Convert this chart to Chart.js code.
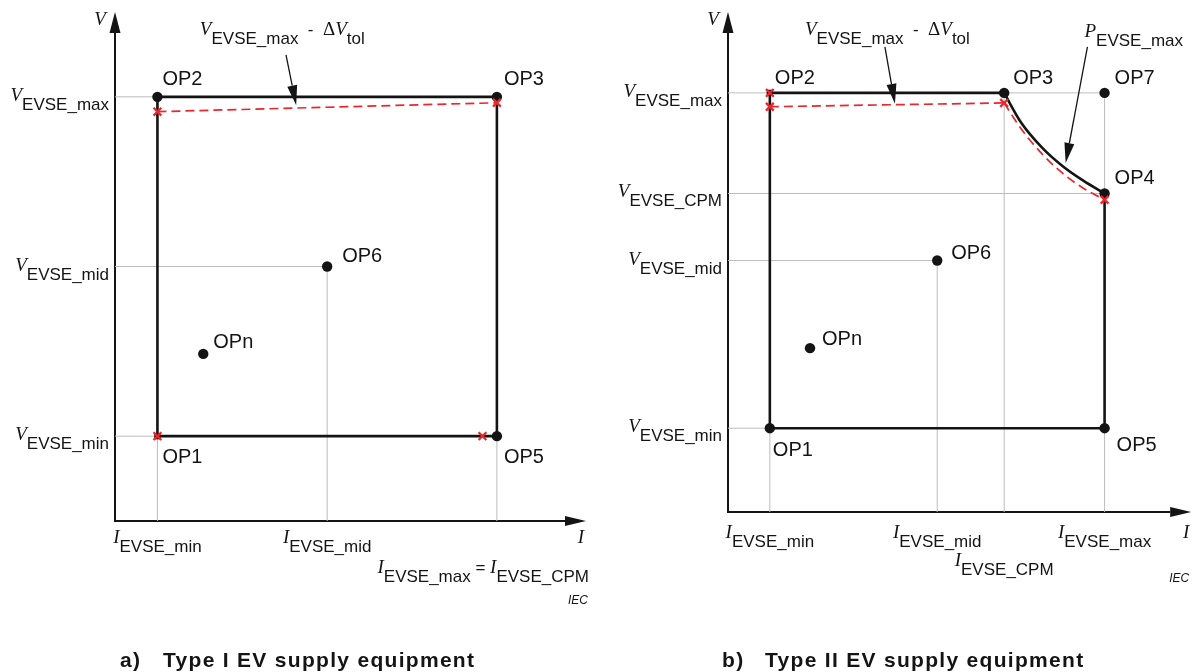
<!DOCTYPE html>
<html>
<head>
<meta charset="utf-8">
<script src="https://cdn.jsdelivr.net/npm/chart.js@4.4.1/dist/chart.umd.min.js"></script>
<style>
	body { margin:0; background:#fff; }
	#hoja { position:relative; width:1199px; height:672px; overflow:hidden; }
	#hoja canvas { position:absolute; top:0; }
</style>
</head>
<body>
<div id="hoja">
	<canvas id="grafA" width="600" height="672" style="left:0"></canvas>
	<canvas id="grafB" width="599" height="672" style="left:600px"></canvas>
</div>
<script>
// ---- a) Type I EV supply equipment ----
const aOpNames = ['OP1', 'OP2', 'OP3', 'OP5', 'OP6', 'OPn'];
const aOpI = [1, 1, 9, 9, 5, 2.08];
const aOpV = [2, 10, 10, 2, 6, 3.94];
const aBoxI = [1, 1, 9, 9, 1];
const aBoxV = [2, 10, 10, 2, 2];
const aTolI = [1, 9];
const aTolV = [9.65, 9.86];
const aMarkI = [1, 9, 1, 8.66];
const aMarkV = [9.65, 9.86, 2, 2];
const aVTicks = [10, 6, 2];
const aVNames = ['EVSE_max', 'EVSE_mid', 'EVSE_min'];
const aVGuideTo = [1, 5, 1];
const aITicks = [1, 5, 9];
const aINames = ['EVSE_min', 'EVSE_mid', ''];
const aIGuideTo = [2, 6, 2];

// ---- b) Type II EV supply equipment ----
const bOpNames = ['OP1', 'OP2', 'OP3', 'OP4', 'OP5', 'OP6', 'OP7', 'OPn'];
const bOpI = [1, 1, 6.6, 9, 9, 5, 9, 1.96];
const bOpV = [2, 10, 10, 7.6, 2, 6, 10, 3.91];
const bBoxI = [9, 9, 1, 1, 6.6];
const bBoxV = [7.6, 2, 2, 10, 10];
const bPowI = [6.6, 7.0, 7.5, 8.0, 8.5, 9];
const bPowV = [10, 9.3, 8.7, 8.25, 7.9, 7.6];
const bTolI = [1, 6.6];
const bTolV = [9.67, 9.76];
const bTolPowI = [6.6, 7.0, 7.5, 8.0, 8.5, 9];
const bTolPowV = [9.76, 9.15, 8.55, 8.08, 7.72, 7.45];
const bMarkI = [1, 1, 6.6, 9];
const bMarkV = [10, 9.67, 9.76, 7.45];
const bVTicks = [10, 7.6, 6, 2];
const bVNames = ['EVSE_max', 'EVSE_CPM', 'EVSE_mid', 'EVSE_min'];
const bVGuideTo = [9, 9, 5, 1];
const bITicks = [1, 5, 6.6, 9];
const bINames = ['EVSE_min', 'EVSE_mid', 'EVSE_CPM', 'EVSE_max'];
const bIGuideTo = [2, 6, 10, 10];

const NEGRO = '#141414';
const GRIS = '#bdbdbd';
const ROJO = '#e8272e';

function fuente(k){
	if(k == 'm') return 'italic 19px "Liberation Serif"';
	if(k == 'g') return '19px "Liberation Serif"';
	return '17px "Liberation Sans"';
}

// text made of parts: m = italic symbol, g = upright symbol, s = subscript, n = plain
function dibujaPartes(ctx, partes, x, y, alinea){
	let w = 0;
	partes.forEach(p => { ctx.font = fuente(p[1]); w += ctx.measureText(p[0]).width; });
	let cx = x;
	if(alinea == 'right') cx = x - w;
	if(alinea == 'center') cx = x - w / 2;
	ctx.textAlign = 'left';
	ctx.textBaseline = 'alphabetic';
	partes.forEach(p => {
		ctx.font = fuente(p[1]);
		ctx.fillText(p[0], cx, p[1] == 's' ? y + 9 : y);
		cx += ctx.measureText(p[0]).width;
	});
}

function flecha(ctx, x1, y1, x2, y2, largo, ancho){
	const a = Math.atan2(y2 - y1, x2 - x1);
	const bx = x2 - largo * Math.cos(a), by = y2 - largo * Math.sin(a);
	ctx.beginPath();
	ctx.moveTo(x1, y1);
	ctx.lineTo(bx, by);
	ctx.stroke();
	ctx.beginPath();
	ctx.moveTo(x2, y2);
	ctx.lineTo(bx + ancho * Math.sin(a), by - ancho * Math.cos(a));
	ctx.lineTo(bx - ancho * Math.sin(a), by + ancho * Math.cos(a));
	ctx.closePath();
	ctx.fill();
}

function puntos(xs, ys){
	return xs.map((x, i) => ({x: x, y: ys[i]}));
}

function plugDibujo(c){
	return {
		id: 'dibujo',
		beforeDatasetsDraw(chart){
			const ctx = chart.ctx, sx = chart.scales.x, sy = chart.scales.y;
			const x0 = sx.getPixelForValue(0), y0 = sy.getPixelForValue(0);
			const xf = sx.getPixelForValue(sx.max), yf = sy.getPixelForValue(sy.max);
			ctx.save();
			ctx.strokeStyle = NEGRO; ctx.fillStyle = NEGRO; ctx.lineWidth = 2;
			flecha(ctx, x0 - 1, y0, xf, y0, 21, 5);
			flecha(ctx, x0, y0 + 1, x0, yf, 21, 5.5);
			ctx.restore();
		},
		afterDatasetsDraw(chart){
			const ctx = chart.ctx, sx = chart.scales.x, sy = chart.scales.y;
			const x0 = sx.getPixelForValue(0), y0 = sy.getPixelForValue(0);
			const xf = sx.getPixelForValue(sx.max), yf = sy.getPixelForValue(sy.max);
			ctx.save();
			ctx.fillStyle = NEGRO; ctx.strokeStyle = NEGRO;
			// axis names
			ctx.font = fuente('m'); ctx.textAlign = 'center';
			ctx.fillText('V', x0 - 15, yf + 13);
			ctx.fillText('I', xf - 5, y0 + c.filaI);
			// tick labels
			c.vTicks.forEach((v, i) => {
				dibujaPartes(ctx, [['V', 'm'], [c.vNames[i], 's']], x0 - 6, sy.getPixelForValue(v) + 4, 'right');
			});
			c.iTicks.forEach((v, i) => {
				if(!c.iNames[i]) return;
				const fila = c.iFila2 && c.iFila2.indexOf(i) >= 0 ? c.filaI2 : c.filaI;
				dibujaPartes(ctx, [['I', 'm'], [c.iNames[i], 's']], sx.getPixelForValue(v), y0 + fila, 'center');
			});
			if(c.extra) dibujaPartes(ctx, c.extra, xf + 3, y0 + c.filaI2, 'right');
			// operating points
			ctx.font = '20px "Liberation Sans"'; ctx.textAlign = 'left';
			c.opNames.forEach((n, i) => {
				const o = c.opPos[i];
				ctx.fillText(n, sx.getPixelForValue(c.opI[i]) + o[0], sy.getPixelForValue(c.opV[i]) + o[1]);
			});
			// call-outs
			ctx.lineWidth = 1.3;
			c.notas.forEach(n => {
				dibujaPartes(ctx, n.texto, sx.getPixelForValue(n.en[0]), sy.getPixelForValue(n.en[1]), 'left');
				flecha(ctx, sx.getPixelForValue(n.cola[0]), sy.getPixelForValue(n.cola[1]),
					sx.getPixelForValue(n.punta[0]), sy.getPixelForValue(n.punta[1]), 20, 5);
			});
			// IEC mark
			ctx.font = 'italic 12px "Liberation Sans"'; ctx.textAlign = 'right';
			ctx.fillText('IEC', xf + c.iecDx, y0 + c.filaIEC);
			// caption
			ctx.font = 'bold 21px "Liberation Sans"'; ctx.textAlign = 'left';
			ctx.letterSpacing = '1.3px';
			ctx.fillText(c.titulo[0], c.tituloX, 667);
			ctx.fillText(c.titulo[1], c.tituloX + 43, 667);
			ctx.restore();
		}
	};
}

function grafica(id, c){
	const guia = {showLine: true, borderColor: GRIS, borderWidth: 1, pointRadius: 0, order: 5};
	const sets = [];
	c.vTicks.forEach((v, i) => sets.push(Object.assign({data: [{x: 0, y: v}, {x: c.vGuideTo[i], y: v}]}, guia)));
	c.iTicks.forEach((v, i) => sets.push(Object.assign({data: [{x: v, y: 0}, {x: v, y: c.iGuideTo[i]}]}, guia)));
	const caja = {showLine: true, borderColor: NEGRO, borderWidth: 2.6, pointRadius: 0, borderJoinStyle: 'miter', order: 3};
	sets.push(Object.assign({data: puntos(c.boxI, c.boxV)}, caja));
	if(c.powI) sets.push(Object.assign({data: puntos(c.powI, c.powV), cubicInterpolationMode: 'monotone'}, caja));
	const tol = {showLine: true, borderColor: ROJO, borderWidth: 1.7, borderDash: [9, 5], pointRadius: 0, order: 2};
	sets.push(Object.assign({data: puntos(c.tolI, c.tolV)}, tol));
	if(c.tolPowI) sets.push(Object.assign({data: puntos(c.tolPowI, c.tolPowV), cubicInterpolationMode: 'monotone'}, tol));
	sets.push({
		data: puntos(c.opI, c.opV),
		pointStyle: c.opNames.map(n => n == c.cuadro ? 'rect' : 'circle'),
		pointRadius: c.opNames.map(n => n == c.cuadro ? 4.5 : 5.2),
		backgroundColor: NEGRO, borderColor: NEGRO, borderWidth: 0, order: 1
	});
	sets.push({
		data: puntos(c.markI, c.markV),
		pointStyle: 'crossRot', pointRadius: 5.5,
		borderColor: ROJO, borderWidth: 2.3, order: 0
	});

	return new Chart(document.getElementById(id).getContext('2d'), {
		type: 'scatter',
		data: {datasets: sets},
		options: {
			responsive: false,
			animation: false,
			events: [],
			layout: {padding: c.relleno},
			datasets: {scatter: {clip: false}},
			plugins: {legend: {display: false}, tooltip: {enabled: false}},
			scales: {
				x: {type: 'linear', display: false, min: 0, max: c.xMax},
				y: {type: 'linear', display: false, min: 0, max: c.yMax}
			}
		},
		plugins: [plugDibujo(c)]
	});
}

grafica('grafA', {
	relleno: {left: 115, right: 14, top: 12, bottom: 151},
	xMax: 11.1, yMax: 12,
	opNames: aOpNames, opI: aOpI, opV: aOpV,
	opPos: [[5, 27], [5, -12], [7, -12], [7, 27], [15, -5], [10, -6]],
	cuadro: 'OP1',
	boxI: aBoxI, boxV: aBoxV,
	tolI: aTolI, tolV: aTolV,
	markI: aMarkI, markV: aMarkV,
	vTicks: aVTicks, vNames: aVNames, vGuideTo: aVGuideTo,
	iTicks: aITicks, iNames: aINames, iGuideTo: aIGuideTo,
	filaI: 22, filaI2: 52, filaIEC: 83, iecDx: 2,
	extra: [['I', 'm'], ['EVSE_max', 's'], [' = ', 'n'], ['I', 'm'], ['EVSE_CPM', 's']],
	notas: [{texto: [['V', 'm'], ['EVSE_max', 's'], ['  -  ', 'n'], ['\u0394', 'g'], ['V', 'm'], ['tol', 's']],
		en: [2.0, 11.46], cola: [4.03, 10.99], punta: [4.27, 9.8]}],
	titulo: ['a)', 'Type I EV supply equipment'], tituloX: 120
});

grafica('grafB', {
	relleno: {left: 128, right: 7, top: 12, bottom: 160},
	xMax: 11.07, yMax: 11.93,
	opNames: bOpNames, opI: bOpI, opV: bOpV,
	opPos: [[3, 28], [5, -9], [9, -9], [10, -9], [12, 23], [14, -2], [10, -9], [12, -3]],
	cuadro: 'OP2',
	boxI: bBoxI, boxV: bBoxV, powI: bPowI, powV: bPowV,
	tolI: bTolI, tolV: bTolV, tolPowI: bTolPowI, tolPowV: bTolPowV,
	markI: bMarkI, markV: bMarkV,
	vTicks: bVTicks, vNames: bVNames, vGuideTo: bVGuideTo,
	iTicks: bITicks, iNames: bINames, iGuideTo: bIGuideTo, iFila2: [2],
	filaI: 26, filaI2: 54, filaIEC: 70, iecDx: -2,
	notas: [
		{texto: [['V', 'm'], ['EVSE_max', 's'], ['  -  ', 'n'], ['\u0394', 'g'], ['V', 'm'], ['tol', 's']],
			en: [1.84, 11.38], cola: [3.75, 11.1], punta: [3.99, 9.74]},
		{texto: [['P', 'm'], ['EVSE_max', 's']],
			en: [8.52, 11.34], cola: [8.59, 11.1], punta: [8.07, 8.33]}
	],
	titulo: ['b)', 'Type II EV supply equipment'], tituloX: 122
});
</script>
</body>
</html>
